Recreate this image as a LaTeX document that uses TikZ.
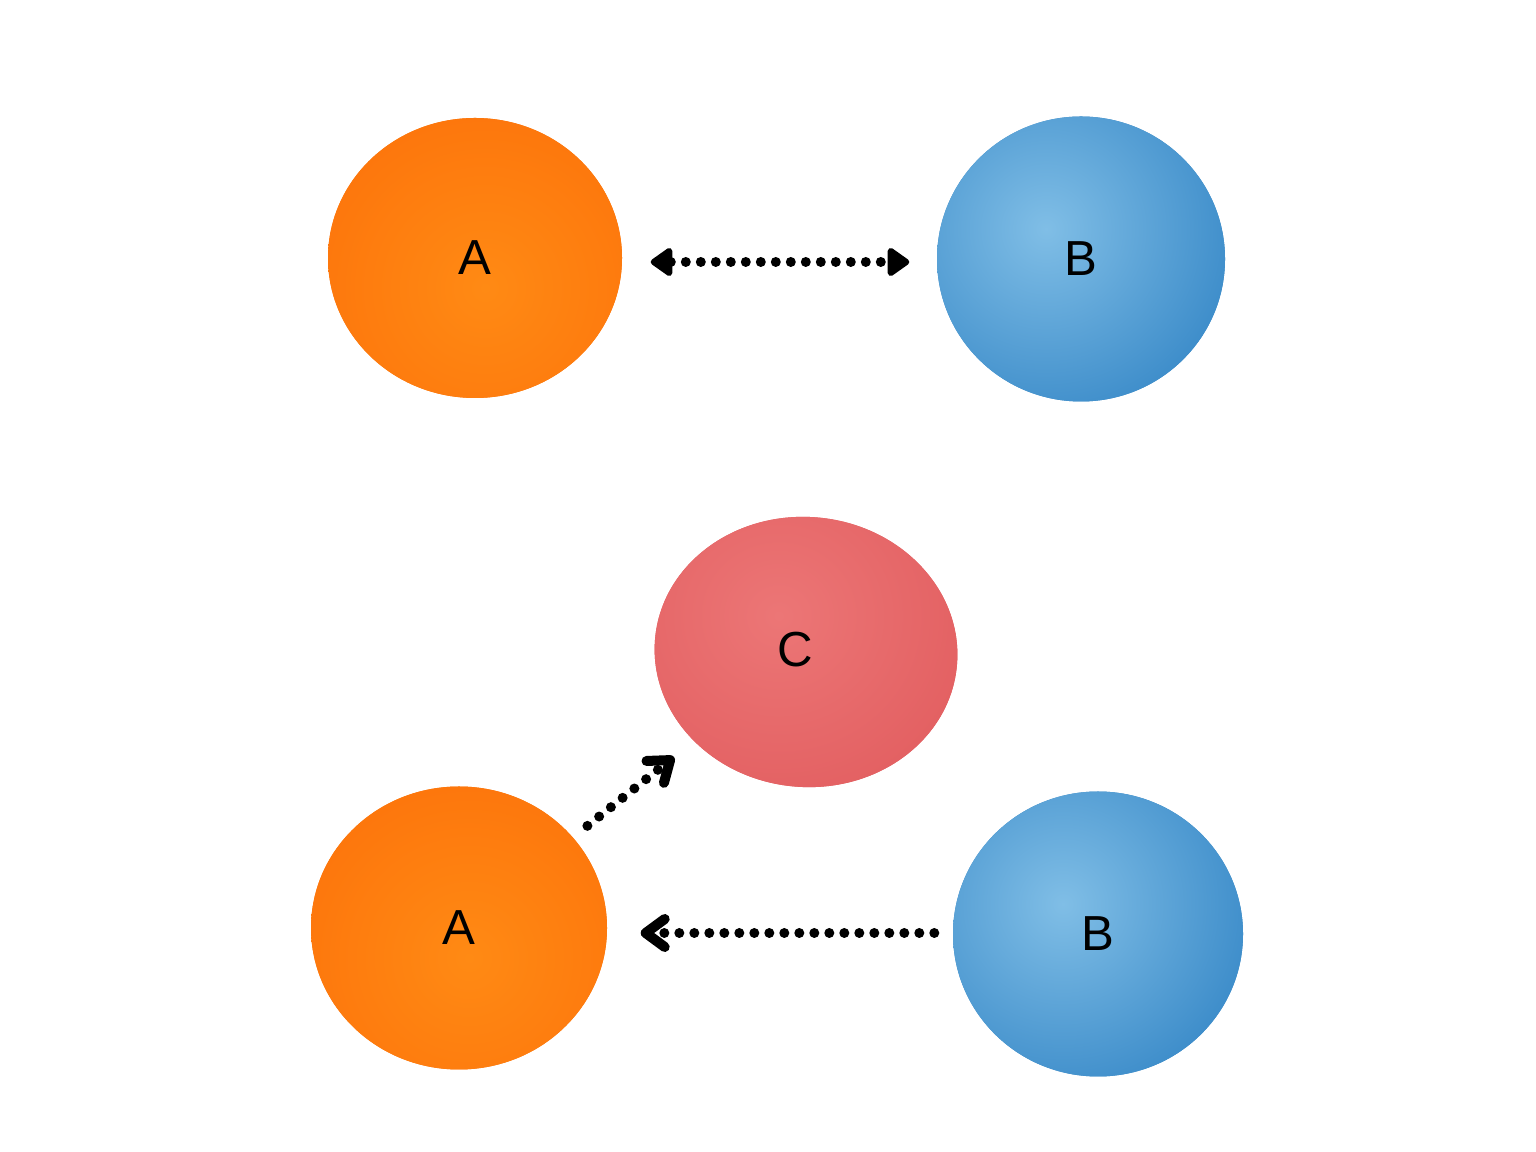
\documentclass[tikz,border=0pt]{standalone}
\usepackage{fontspec}
\setmainfont{Liberation Sans}
\usetikzlibrary{shapes.geometric,arrows.meta,calc}
\definecolor{orL}{RGB}{255,138,20}
\definecolor{orD}{RGB}{253,118,12}
\definecolor{blL}{RGB}{128,190,230}
\definecolor{blD}{RGB}{52,134,198}
\definecolor{rdL}{RGB}{236,118,118}
\definecolor{rdD}{RGB}{226,94,96}
\tikzset{
  blob/.style={ellipse, inner sep=0pt, font=\fontsize{14}{17}\selectfont, text=black},
  orangeblob/.style={blob, fill=orD, path picture={\shade[inner color=orL, outer color=orD] ([shift={(0.1,-0.3)}]path picture bounding box.center) circle (1.8cm);}},
  blueblob/.style={blob, fill=blD, path picture={\shade[inner color=blL, outer color=blD] ([shift={(-0.35,0.3)}]path picture bounding box.center) circle (2.2cm);}},
  redblob/.style={blob, fill=rdD, path picture={\shade[inner color=rdL, outer color=rdD] ([shift={(-0.3,0.3)}]path picture bounding box.center) circle (2.1cm);}},
  dotline/.style={line width=0.1cm, line cap=round, dash pattern=on 0pt off 0.15cm},
  tri/.tip={Triangle[length=2.4mm, width=3.2mm, line join=round]},
  barb/.tip={Straight Barb[length=1.9mm, width=2.8mm, round]},
}
\begin{document}
\begin{tikzpicture}
\useasboundingbox (0,0) rectangle (15.36,11.52);
\fill[white] (0,0) rectangle (15.36,11.52);
% top row
\node[orangeblob, minimum width=2.94cm, minimum height=2.80cm] (A1) at (4.75,8.94) {A};
\node[blueblob, minimum width=2.88cm, minimum height=2.85cm] (B1) at (10.81,8.93) {B};
% bottom
\node[redblob, minimum width=3.03cm, minimum height=2.70cm, rotate=-5] (C) at (8.06,5.00) {};
\node[font=\fontsize{14}{17}\selectfont] (Clab) at (7.95,5.02) {C};
\node[orangeblob, minimum width=2.96cm, minimum height=2.83cm] (A2) at (4.59,2.24) {A};
\node[blueblob, minimum width=2.90cm, minimum height=2.85cm] (B2) at (10.98,2.18) {B};
% connectors
\draw[dotline, {tri}-{tri}, shorten <=0.28cm, shorten >=0.27cm] ([yshift=-0.04cm]A1.east) -- ([yshift=-0.04cm]A1.east -| B1.west);
\draw[dotline, -{barb}, shorten <=0.18cm, shorten >=0.25cm] (A2) -- (C);
\draw[dotline, -{barb}, shorten <=0.18cm, shorten >=0.33cm] ([yshift=0.01cm]B2.west) -- ([yshift=0.01cm]B2.west -| A2.east);
\end{tikzpicture}
\end{document}
